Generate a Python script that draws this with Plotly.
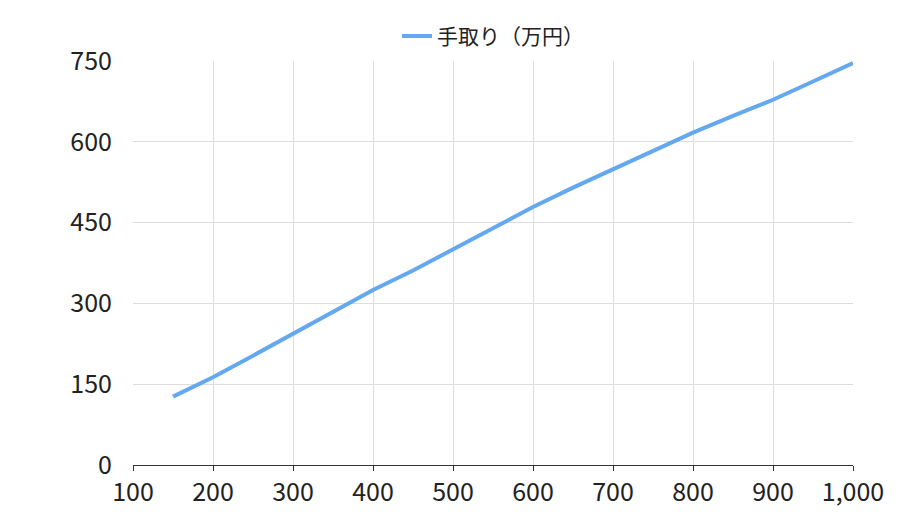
import plotly.graph_objects as go

salary = [150, 200, 250, 300, 350, 400, 450, 500, 550, 600, 650, 700, 750, 800, 850, 900, 950, 1000]
takehome = [127, 163, 203, 244, 285, 325, 361, 401, 440, 479, 515, 549, 584, 617, 648, 678, 712, 746]

fig = go.Figure()
fig.add_trace(go.Scatter(x=salary, y=takehome, mode="lines", name="手取り（万円）",
                         line=dict(color="#64a8f0", width=4)))

fig.update_layout(
    width=920, height=516,
    margin=dict(l=125, r=75, t=53, b=59),
    plot_bgcolor="white", paper_bgcolor="white",
    font=dict(family="Noto Sans CJK JP", size=25, color="#222"),
    showlegend=True,
    legend=dict(orientation="h", x=0.5, xanchor="center", yref="container",
                y=0.985, yanchor="top", font=dict(size=21)),
    xaxis=dict(range=[100, 1000], dtick=100, tickformat=",", showgrid=True,
               gridcolor="#dddddd", showline=True, linecolor="#333", ticks="outside",
               ticklen=5, tickcolor="#333", automargin=False),
    yaxis=dict(range=[0, 750], dtick=150, showgrid=True, gridcolor="#dddddd",
               zeroline=False, ticks="", ticklabelstandoff=20, automargin=False),
)

fig.write_html("out.html")
